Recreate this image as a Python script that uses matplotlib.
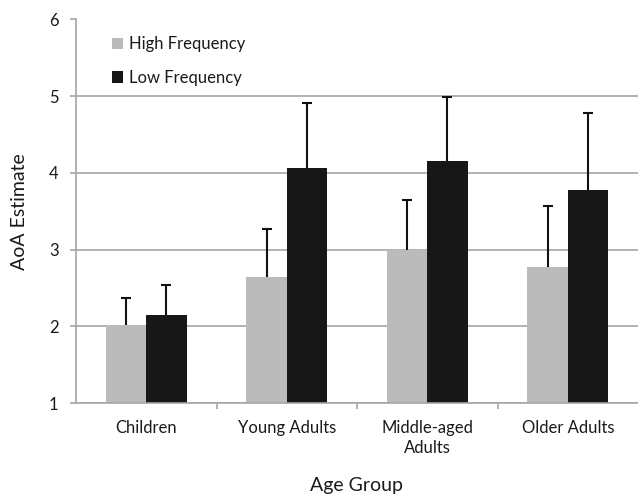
import numpy as np
import matplotlib
matplotlib.use("Agg")
import matplotlib.pyplot as plt
from matplotlib.ticker import FixedLocator

# data
groups = ["Children", "Young Adults", "Middle-aged\nAdults", "Older Adults"]
high_freq = [2.02, 2.64, 3.00, 2.77]
high_err = [0.35, 0.63, 0.65, 0.80]
low_freq = [2.15, 4.06, 4.16, 3.78]
low_err = [0.39, 0.85, 0.83, 1.00]

plt.rcParams['font.family'] = ['Lato', 'DejaVu Sans']

fig = plt.figure(figsize=(6.38, 5.03), dpi=100)
ax = fig.add_axes([76 / 638, 100 / 503, 562 / 638, 383.5 / 503])

x = np.arange(len(groups))
width = 0.287
grid_col = '#a6a6a6'
txt_col = '#1a1a1a'

ax.bar(x - width / 2, high_freq, width, color='#bbbbbb',
       label='High Frequency', zorder=2)
ax.bar(x + width / 2, low_freq, width, color='#171717',
       label='Low Frequency', zorder=2)

# upper error bars only
for xs, ys, es in [(x - width / 2, high_freq, high_err), (x + width / 2, low_freq, low_err)]:
    _, caps, _ = ax.errorbar(xs, ys, yerr=[np.zeros(len(es)), es], fmt='none',
                             ecolor='#111111', elinewidth=1.5, capsize=3.6,
                             capthick=1.5, zorder=3)
    caps[0].set_visible(False)

ax.set_xlim(-0.5, 3.5)
ax.set_ylim(1, 6)
ax.set_yticks([1, 2, 3, 4, 5, 6])
ax.yaxis.grid(True, color=grid_col, linewidth=1.2, zorder=0)
ax.set_axisbelow(True)

ax.set_xticks(x)
ax.set_xticklabels(groups, fontsize=12, color=txt_col, linespacing=1.35)
ax.xaxis.set_minor_locator(FixedLocator([0.5, 1.5, 2.5]))
ax.tick_params(axis='x', which='major', length=0, pad=12)
ax.tick_params(axis='x', which='minor', length=4, width=1.2, color=grid_col, direction='out')
ax.tick_params(axis='y', length=4.5, width=1.2, color=grid_col, pad=8,
               labelsize=12, labelcolor=txt_col)

for side in ['top', 'right']:
    ax.spines[side].set_visible(False)
for side in ['left', 'bottom']:
    ax.spines[side].set_color(grid_col)
    ax.spines[side].set_linewidth(1.2)

ax.set_xlabel('Age Group', fontsize=14, color=txt_col)
ax.xaxis.set_label_coords(0.5, -(485 - 403) / 383.5)
ax.xaxis.label.set_va('center')
ax.set_ylabel('AoA Estimate', fontsize=14, color=txt_col)
ax.yaxis.set_label_coords((20 - 76) / 562, 0.5)
ax.yaxis.label.set_va('center')

ax.legend(loc='upper left', bbox_to_anchor=(29 / 562, 1 - 10 / 383.5),
          frameon=False, fontsize=12, handlelength=0.7, handleheight=0.7,
          handletextpad=0.35, labelspacing=1.05, borderaxespad=0,
          labelcolor=txt_col)

fig.savefig('out.png', dpi=100)
